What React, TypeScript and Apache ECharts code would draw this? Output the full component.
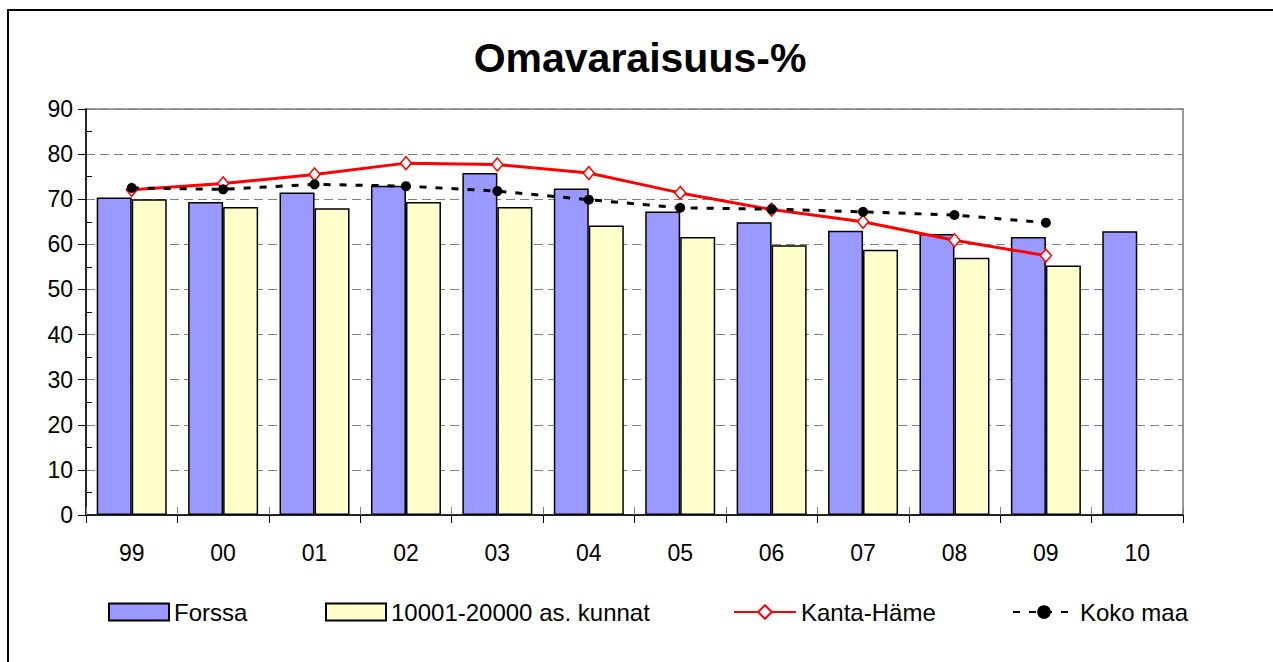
import React, { useEffect, useRef } from "react";
import * as echarts from "echarts";

const categories = ["99", "00", "01", "02", "03", "04", "05", "06", "07", "08", "09", "10"];
const forssa = [70.4, 69.4, 71.5, 73.0, 75.8, 72.4, 67.3, 64.9, 63.0, 62.3, 61.6, 62.9];
const kunnat = [70.0, 68.3, 68.0, 69.4, 68.3, 64.2, 61.6, 59.8, 58.8, 57.0, 55.3];
const kantaHame = [72.1, 73.5, 75.5, 78.0, 77.7, 75.8, 71.4, 67.7, 65.0, 60.9, 57.5];
const kokoMaa = [72.5, 72.2, 73.3, 72.9, 71.8, 69.9, 68.1, 67.8, 67.2, 66.5, 64.8];
const yTicks = { min: 0, max: 90, interval: 10 };

const FONT = '"Liberation Sans", Arial, sans-serif';

export default function App() {
  const ref = useRef<HTMLDivElement>(null);
  useEffect(() => {
    if (!ref.current) return;
    const chart = echarts.init(ref.current, null, { renderer: "svg" });
    const legendText = { fontSize: 24, color: "#000", fontFamily: FONT };
    const legendBase = {
      top: 589,
      padding: 0,
      itemGap: 0,
      itemHeight: 17,
      textStyle: legendText,
      selectedMode: false,
    };
    chart.setOption({
      animation: false,
      backgroundColor: "#fff",
      textStyle: { fontFamily: FONT },
      title: {
        text: "Omavaraisuus-%",
        left: "center",
        top: 26,
        padding: 0,
        textStyle: { fontSize: 41, fontWeight: "bold", color: "#000", fontFamily: FONT },
      },
      legend: [
        { ...legendBase, left: 99, itemWidth: 60, icon: "rect", data: ["Forssa"] },
        { ...legendBase, left: 316, itemWidth: 60, icon: "rect", data: ["10001-20000 as. kunnat"] },
        { ...legendBase, left: 724, itemWidth: 62, data: ["Kanta-Häme"] },
        { ...legendBase, left: 1003, itemWidth: 62, data: ["Koko maa"] },
      ],
      grid: {
        left: 77,
        top: 98,
        width: 1097,
        height: 406,
        show: true,
        borderColor: "#999",
        borderWidth: 2,
        backgroundColor: "transparent",
      },
      xAxis: [
        {
          type: "category",
          data: categories,
          position: "bottom",
          axisLine: { lineStyle: { color: "#000", width: 1.5 } },
          axisTick: { show: true, interval: 0, length: 8, lineStyle: { color: "#000", width: 1 } },
          axisLabel: { fontSize: 23, color: "#000", margin: 26, fontFamily: FONT },
          splitLine: { show: false },
        },
        {
          type: "category",
          data: categories,
          position: "bottom",
          offset: 0,
          axisLine: { show: false },
          axisTick: { show: true, inside: true, interval: 0, length: 8, lineStyle: { color: "#808080", width: 1 } },
          axisLabel: { show: false },
          splitLine: { show: false },
        },
      ],
      yAxis: [
        {
          type: "value",
          position: "left",
          min: yTicks.min,
          max: yTicks.max,
          interval: yTicks.interval,
          axisLine: { show: true, lineStyle: { color: "#000", width: 1.5 } },
          axisTick: { show: true, length: 8, lineStyle: { color: "#000", width: 1 } },
          axisLabel: { fontSize: 23, color: "#000", margin: 13, fontFamily: FONT },
          splitLine: { show: true, lineStyle: { color: "#808080", width: 1, type: [9, 5] } },
        },
        {
          type: "value",
          position: "left",
          offset: 0,
          min: yTicks.min,
          max: yTicks.max,
          interval: yTicks.interval,
          axisLine: { show: false },
          axisTick: { show: false, inside: true },
          minorTick: { show: true, splitNumber: 2, length: 6, lineStyle: { color: "#000", width: 1 } },
          axisLabel: { show: false },
          splitLine: { show: false },
        },
      ],
      series: [
        {
          name: "Forssa",
          type: "bar",
          data: forssa,
          barWidth: 35,
          barGap: "0%",
          itemStyle: { color: "#9999FF", borderColor: "#000", borderWidth: 1.5 },
        },
        {
          name: "10001-20000 as. kunnat",
          type: "bar",
          data: kunnat,
          barWidth: 35,
          barGap: "0%",
          itemStyle: { color: "#FFFFCC", borderColor: "#000", borderWidth: 1.5 },
        },
        {
          name: "Kanta-Häme",
          type: "line",
          data: kantaHame,
          symbol: "diamond",
          symbolSize: [11, 13],
          showAllSymbol: true,
          lineStyle: { color: "#FF0000", width: 3 },
          itemStyle: { color: "#fff", borderColor: "#FF0000", borderWidth: 1.5 },
          z: 3,
        },
        {
          name: "Koko maa",
          type: "line",
          data: kokoMaa,
          symbol: "circle",
          symbolSize: 10,
          showAllSymbol: true,
          lineStyle: { color: "#000", width: 3, type: [7, 9] },
          itemStyle: { color: "#000", borderColor: "#000", borderWidth: 0 },
          z: 4,
        },
      ],
    });
    return () => chart.dispose();
  }, []);

  return (
    <div style={{ position: "fixed", left: 0, top: 0, width: 1273, height: 662, overflow: "hidden", background: "#fff" }}>
      <div
        style={{
          position: "absolute",
          left: 7,
          top: 9,
          width: 1270,
          height: 672,
          border: "2px solid #000",
          boxSizing: "border-box",
        }}
      />
      <div ref={ref} style={{ position: "absolute", left: 9, top: 11, width: 1262, height: 660 }} />
    </div>
  );
}
